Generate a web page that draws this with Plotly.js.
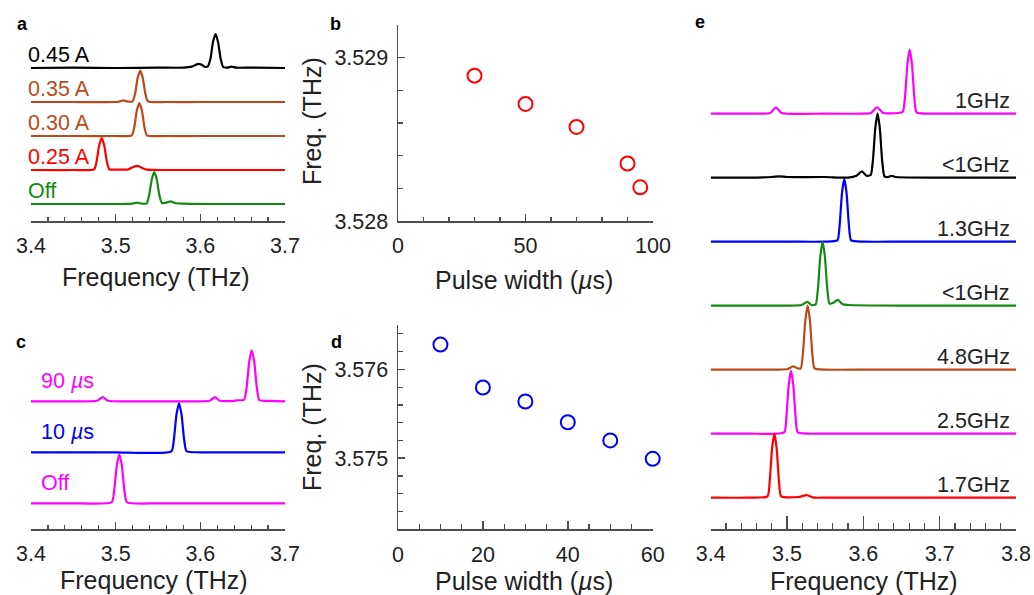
<!DOCTYPE html>
<html>
<head>
<meta charset="utf-8">
<script src="https://cdn.plot.ly/plotly-3.0.1.min.js"></script>
<style>html,body{margin:0;padding:0;background:#fff;}#chart{width:1034px;height:595px;}</style>
</head>
<body>
<div id="chart"></div>
<script>
// ---------------- DATA ----------------
// Panel a: spectra vs. current (normalised intensity, baseline 0)
const aLabels = ['0.45 A', '0.35 A', '0.30 A', '0.25 A', 'Off'];
const a045_f = [3.400, 3.450, 3.500, 3.550, 3.580, 3.590, 3.595, 3.598, 3.601, 3.606, 3.609, 3.612, 3.615, 3.618, 3.621, 3.624, 3.627, 3.632, 3.637, 3.642, 3.660, 3.700];
const a045_i = [0, 0.01, 0, 0.01, 0.01, 0.04, 0.10, 0.12, 0.10, 0.03, 0.05, 0.28, 0.77, 1.00, 0.76, 0.27, 0.03, 0.01, 0.04, 0.01, 0.01, 0];
const a035_f = [3.400, 3.450, 3.500, 3.505, 3.509, 3.513, 3.520, 3.523, 3.526, 3.529, 3.532, 3.535, 3.538, 3.560, 3.600, 3.650, 3.700];
const a035_i = [0, 0, 0, 0.02, 0.05, 0.02, 0.02, 0.25, 0.71, 0.92, 0.71, 0.25, 0.02, 0, 0, 0, 0];
const a030_f = [3.400, 3.450, 3.500, 3.519, 3.522, 3.525, 3.528, 3.531, 3.534, 3.537, 3.560, 3.600, 3.650, 3.700];
const a030_i = [0, 0, 0, 0.02, 0.26, 0.75, 0.97, 0.75, 0.26, 0.02, 0, 0, 0, 0];
const a025_f = [3.400, 3.450, 3.4745, 3.4775, 3.4805, 3.4835, 3.4865, 3.4895, 3.4925, 3.500, 3.515, 3.520, 3.526, 3.532, 3.537, 3.560, 3.600, 3.650, 3.700];
const a025_i = [0, 0, 0.02, 0.26, 0.72, 0.94, 0.72, 0.26, 0.02, 0.01, 0.02, 0.08, 0.12, 0.05, 0.01, 0, 0, 0, 0];
const aOff_f = [3.400, 3.450, 3.500, 3.520, 3.526, 3.531, 3.5366, 3.5396, 3.5426, 3.5456, 3.5486, 3.5516, 3.5546, 3.560, 3.565, 3.570, 3.580, 3.620, 3.660, 3.700];
const aOff_i = [0, 0, 0, 0.01, 0.04, 0.01, 0.02, 0.26, 0.72, 0.94, 0.72, 0.26, 0.03, 0.04, 0.08, 0.03, 0.01, 0, 0, 0];

// Panel b: frequency vs pulse width
const bPulse = [30, 50, 70, 90, 95];
const bFreq = [3.52889, 3.528717, 3.528576, 3.528352, 3.528206];

// Panel c: spectra vs pulse width
const cLabels = ['90 <i>µ</i>s', '10 <i>µ</i>s', 'Off'];
const c90_f = [3.400, 3.450, 3.478, 3.4847, 3.491, 3.520, 3.560, 3.600, 3.611, 3.6173, 3.623, 3.640, 3.645, 3.6517, 3.6547, 3.6577, 3.6607, 3.6637, 3.6667, 3.6697, 3.680, 3.700];
const c90_i = [0, 0, 0.01, 0.08, 0.01, 0, 0, 0, 0.01, 0.08, 0.01, 0.01, 0.02, 0.03, 0.28, 0.77, 1.00, 0.77, 0.27, 0.02, 0.01, 0];
const c10_f = [3.400, 3.450, 3.500, 3.5658, 3.5688, 3.5718, 3.5748, 3.5778, 3.5808, 3.5838, 3.600, 3.650, 3.700];
const c10_i = [0, 0, 0, 0.02, 0.26, 0.74, 0.96, 0.74, 0.26, 0.02, 0, 0, 0];
const cOff_f = [3.400, 3.450, 3.4953, 3.4983, 3.5013, 3.5043, 3.5073, 3.5103, 3.5133, 3.550, 3.600, 3.650, 3.700];
const cOff_i = [0, 0, 0.02, 0.26, 0.74, 0.96, 0.74, 0.26, 0.02, 0, 0, 0, 0];

// Panel d: frequency vs pulse width
const dPulse = [10, 20, 30, 40, 50, 60];
const dFreq = [3.57628, 3.575796, 3.575639, 3.575405, 3.575201, 3.574993];

// Panel e: spectra with linewidth labels (top to bottom)
const eLabels = ['1GHz', '<1GHz', '1.3GHz', '<1GHz', '4.8GHz', '2.5GHz', '1.7GHz'];
const e1_f = [3.400, 3.450, 3.478, 3.4855, 3.493, 3.550, 3.600, 3.610, 3.6179, 3.626, 3.645, 3.6517, 3.6547, 3.6577, 3.6607, 3.6637, 3.6667, 3.6697, 3.700, 3.750, 3.800];
const e1_i = [0, 0, 0.01, 0.10, 0.01, 0, 0, 0.01, 0.10, 0.01, 0.01, 0.03, 0.28, 0.77, 1.00, 0.77, 0.27, 0.02, 0, 0, 0];
const e2_f = [3.400, 3.450, 3.480, 3.490, 3.500, 3.550, 3.580, 3.591, 3.598, 3.604, 3.6096, 3.6126, 3.6156, 3.6186, 3.6216, 3.6246, 3.6276, 3.632, 3.637, 3.642, 3.700, 3.750, 3.800];
const e2_i = [0, 0, 0.01, 0.02, 0.01, 0.01, 0, 0.03, 0.10, 0.03, 0.04, 0.28, 0.77, 1.00, 0.77, 0.27, 0.02, 0.01, 0.03, 0.01, 0, 0, 0];
const e3_f = [3.400, 3.450, 3.500, 3.550, 3.566, 3.569, 3.572, 3.575, 3.578, 3.581, 3.584, 3.600, 3.650, 3.700, 3.750, 3.800];
const e3_i = [0, 0, 0, 0, 0.02, 0.27, 0.76, 0.98, 0.76, 0.27, 0.02, 0, 0, 0, 0, 0];
const e4_f = [3.400, 3.450, 3.500, 3.519, 3.5266, 3.532, 3.5376, 3.5406, 3.5436, 3.5466, 3.5496, 3.5526, 3.5556, 3.560, 3.5664, 3.573, 3.580, 3.650, 3.700, 3.750, 3.800];
const e4_i = [0, 0, 0, 0.01, 0.06, 0.01, 0.02, 0.28, 0.77, 1.00, 0.77, 0.28, 0.03, 0.04, 0.09, 0.02, 0.01, 0, 0, 0, 0];
const e5_f = [3.400, 3.450, 3.490, 3.501, 3.508, 3.514, 3.518, 3.521, 3.524, 3.527, 3.530, 3.533, 3.536, 3.550, 3.600, 3.650, 3.700, 3.750, 3.800];
const e5_i = [0, 0, 0, 0.01, 0.05, 0.02, 0.02, 0.28, 0.77, 1.00, 0.77, 0.27, 0.02, 0, 0, 0, 0, 0, 0];
const e6_f = [3.400, 3.450, 3.4962, 3.4992, 3.5022, 3.5052, 3.5082, 3.5112, 3.5142, 3.550, 3.600, 3.650, 3.700, 3.750, 3.800];
const e6_i = [0, 0, 0.02, 0.27, 0.76, 0.98, 0.76, 0.27, 0.02, 0, 0, 0, 0, 0, 0];
const e7_f = [3.400, 3.450, 3.4744, 3.4774, 3.4804, 3.4834, 3.4864, 3.4894, 3.4924, 3.515, 3.5257, 3.535, 3.550, 3.600, 3.650, 3.700, 3.750, 3.800];
const e7_i = [0, 0, 0.02, 0.28, 0.77, 1.00, 0.77, 0.27, 0.02, 0.01, 0.04, 0, 0, 0, 0, 0, 0, 0];

// ---------------- STYLE ----------------
const BLACK = '#000000', BROWN = '#bb4a1a', RED = '#ff0000', GREEN = '#138a13', MAG = '#ff00ff', BLUE = '#0000ff';
const TXT = '#222222', AX = '#4d4d4d';
const FONT = 'Liberation Sans, Arial, Helvetica, sans-serif';
const W = 1034, H = 595;
const px = v => v / W, py = v => 1 - v / H;

const traces = [];
const annotations = [];

function addSpectra(list, xa, ya) {
  list.forEach(s => {
    traces.push({
      x: s.f, y: s.i.map(v => v + s.off), xaxis: xa, yaxis: ya,
      type: 'scatter', mode: 'lines', line: {color: s.c, width: 2.2, shape: 'spline', smoothing: 0.55}, hoverinfo: 'skip'
    });
  });
}

// panel a (offsets: top trace highest)
const aSpec = [
  {f: a045_f, i: a045_i, c: BLACK, off: 4},
  {f: a035_f, i: a035_i, c: BROWN, off: 3},
  {f: a030_f, i: a030_i, c: BROWN, off: 2},
  {f: a025_f, i: a025_i, c: RED, off: 1},
  {f: aOff_f, i: aOff_i, c: GREEN, off: 0}
];
addSpectra(aSpec, 'x', 'y');
aSpec.forEach((s, k) => annotations.push({
  text: aLabels[k], xref: 'paper', x: px(26), xanchor: 'left', yref: 'y', y: s.off, yanchor: 'middle', yshift: 13,
  showarrow: false, font: {family: FONT, size: 21.5, color: s.c}
}));

// panel b
traces.push({x: bPulse, y: bFreq, xaxis: 'x2', yaxis: 'y2', type: 'scatter', mode: 'markers', cliponaxis: false,
  marker: {symbol: 'circle-open', size: 14, color: RED, line: {color: RED, width: 2}}, hoverinfo: 'skip'});

// panel c
const cSpec = [
  {f: c90_f, i: c90_i, c: MAG, off: 2},
  {f: c10_f, i: c10_i, c: BLUE, off: 1},
  {f: cOff_f, i: cOff_i, c: MAG, off: 0}
];
addSpectra(cSpec, 'x3', 'y3');
cSpec.forEach((s, k) => annotations.push({
  text: cLabels[k], xref: 'paper', x: px(39), xanchor: 'left', yref: 'y3', y: s.off, yanchor: 'middle', yshift: 20,
  showarrow: false, font: {family: FONT, size: 21.5, color: s.c}
}));

// panel d
traces.push({x: dPulse, y: dFreq, xaxis: 'x4', yaxis: 'y4', type: 'scatter', mode: 'markers', cliponaxis: false,
  marker: {symbol: 'circle-open', size: 14, color: BLUE, line: {color: BLUE, width: 2}}, hoverinfo: 'skip'});

// panel e
const eSpec = [
  {f: e1_f, i: e1_i, c: MAG, off: 6},
  {f: e2_f, i: e2_i, c: BLACK, off: 5},
  {f: e3_f, i: e3_i, c: BLUE, off: 4},
  {f: e4_f, i: e4_i, c: GREEN, off: 3},
  {f: e5_f, i: e5_i, c: BROWN, off: 2},
  {f: e6_f, i: e6_i, c: MAG, off: 1},
  {f: e7_f, i: e7_i, c: RED, off: 0}
];
addSpectra(eSpec, 'x5', 'y5');
eSpec.forEach((s, k) => annotations.push({
  text: eLabels[k].replace('<', '&lt;'), xref: 'paper', x: px(1012), xanchor: 'right', yref: 'y5', y: s.off, yanchor: 'middle', yshift: 13,
  showarrow: false, font: {family: FONT, size: 21.5, color: TXT}
}));

// axis titles & panel letters
function txt(t, x, y, size, opts) {
  annotations.push(Object.assign({text: t, xref: 'paper', yref: 'paper', x: px(x), y: py(y), xanchor: 'center', yanchor: 'middle',
    showarrow: false, font: {family: FONT, size: size, color: TXT}}, opts || {}));
}
txt('Frequency (THz)', 156, 277, 25);
txt('Pulse width (<i>µ</i>s)', 524, 280, 25);
txt('Frequency (THz)', 154, 580, 25);
txt('Pulse width (<i>µ</i>s)', 524, 581, 25);
txt('Frequency (THz)', 864, 581, 25);
txt('Freq. (THz)', 312, 121, 25, {textangle: -90});
txt('Freq. (THz)', 312, 427, 25, {textangle: -90});
const bold = {font: {family: FONT, size: 18, color: '#000', weight: 'bold'}};
txt('<b>a</b>', 22, 24, 18, bold);
txt('<b>b</b>', 335, 24, 18, bold);
txt('<b>c</b>', 21, 342, 18, bold);
txt('<b>d</b>', 336, 342, 18, bold);
txt('<b>e</b>', 700, 22, 18, bold);

// ---------------- AXES ----------------
function xAxis(dom, range, dtick, tick0, minor, fmt, anchor, len, mlen) {
  return {domain: dom, range: range, anchor: anchor, showline: true, linecolor: AX, linewidth: 1.5,
    ticks: 'inside', ticklen: len, tickwidth: 1.5, tickcolor: AX, dtick: dtick, tick0: tick0, tickformat: fmt,
    minor: {dtick: minor, tick0: tick0, ticks: 'inside', ticklen: mlen, tickwidth: 1.2, tickcolor: AX, showgrid: false},
    showgrid: false, zeroline: false, fixedrange: true, ticklabelstandoff: 5,
    tickfont: {family: FONT, size: 21.5, color: TXT}};
}
function yHidden(dom, range, anchor) {
  return {domain: dom, range: range, anchor: anchor, visible: false, fixedrange: true, showgrid: false, zeroline: false};
}
function yAxis(dom, range, dtick, tick0, minor, anchor) {
  return {domain: dom, range: range, anchor: anchor, showline: true, linecolor: AX, linewidth: 1.5,
    ticks: 'inside', ticklen: 7, tickwidth: 1.5, tickcolor: AX, dtick: dtick, tick0: tick0, tickformat: '.3f',
    minor: {dtick: minor, tick0: tick0, ticks: 'inside', ticklen: 5, tickwidth: 1.2, tickcolor: AX, showgrid: false},
    showgrid: false, zeroline: false, fixedrange: true, ticklabelstandoff: 4,
    tickfont: {family: FONT, size: 21.5, color: TXT}};
}

const layout = {
  width: W, height: H, margin: {l: 0, r: 0, t: 0, b: 0}, showlegend: false,
  paper_bgcolor: '#ffffff', plot_bgcolor: 'rgba(0,0,0,0)',
  font: {family: FONT, size: 21, color: TXT},
  xaxis: xAxis([px(31), px(285)], [3.4, 3.7], 0.1, 3.4, 0.02, '.1f', 'y', 7, 4),
  yaxis: yHidden([py(221), py(10)], [-0.5, 5.706], 'x'),
  xaxis2: xAxis([px(398), px(653)], [0, 100], 50, 0, 10, 'd', 'y2', 7, 4),
  yaxis2: yAxis([py(221), py(25)], [3.528, 3.5292], 0.001, 3.528, 0.0002, 'x2'),
  xaxis3: xAxis([px(31), px(285)], [3.4, 3.7], 0.1, 3.4, 0.02, '.1f', 'y3', 7, 4),
  yaxis3: yHidden([py(529), py(340)], [-0.504, 3.202], 'x3'),
  xaxis4: xAxis([px(398), px(652.7)], [0, 60], 20, 0, 5, 'd', 'y4', 8, 5),
  yaxis4: yAxis([py(529.3), py(325)], [3.5742, 3.5765], 0.001, 3.575, 0.0002, 'x4'),
  xaxis5: xAxis([px(710.7), px(1016)], [3.4, 3.8], 0.1, 3.4, 0.02, '.1f', 'y5', 13, 6),
  yaxis5: yHidden([py(529), py(30)], [-0.49, 7.307], 'x5'),
  annotations: annotations
};

Plotly.newPlot('chart', traces, layout, {staticPlot: true, displayModeBar: false});
</script>
</body>
</html>
